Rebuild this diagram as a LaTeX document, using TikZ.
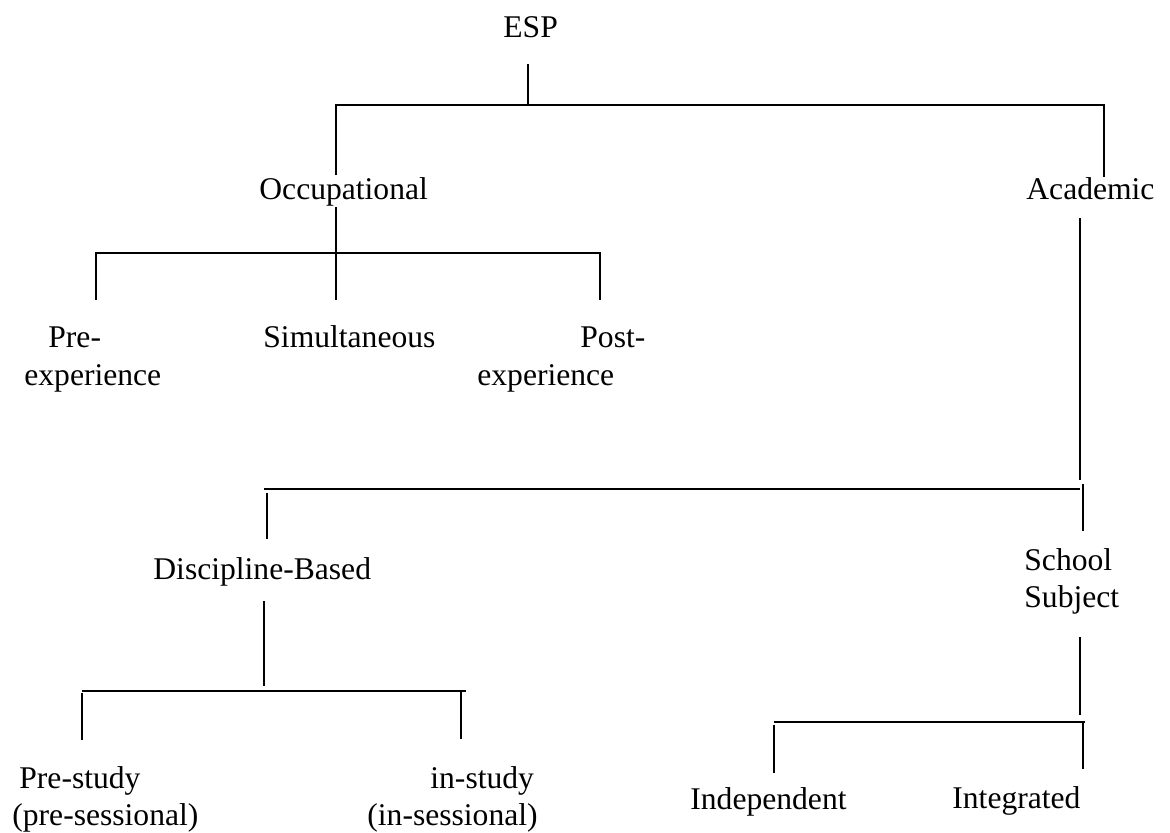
\documentclass[tikz,border=0pt]{standalone}
\usepackage{fontspec}
\setmainfont{Liberation Serif}
\begin{document}
\begin{tikzpicture}[x=0.5pt,y=-0.5pt,
  lbl/.style={anchor=base west,inner sep=0pt,font=\fontsize{15.8}{18.75}\selectfont},
  tree/.style={line width=1.1pt}]
\useasboundingbox (0,0) rectangle (1170,832);

% ---- labels ----
\node[lbl] (esp) at (503,37) {ESP};
\node[lbl] (occ) at (259,199) {Occupational};
\node[lbl] (aca) at (1026,199) {Academic};
\node[lbl] (preA) at (48,347) {Pre-};
\node[lbl] (preB) at (24,385) {experience};
\node[lbl] (sim) at (263,347) {Simultaneous};
\node[lbl] (postA) at (580,347) {Post-};
\node[lbl] (postB) at (477,385) {experience};
\node[lbl] (disc) at (153,579) {Discipline-Based};
\node[lbl] (schA) at (1024,570) {School};
\node[lbl] (schB) at (1024,607) {Subject};
\node[lbl] (prestA) at (19,788) {Pre-study};
\node[lbl] (prestB) at (12,825) {(pre-sessional)};
\node[lbl] (instA) at (430,788) {in-study};
\node[lbl] (instB) at (367,825) {(in-sessional)};
\node[lbl] (indep) at (690,809) {Independent};
\node[lbl] (integ) at (952,808) {Integrated};

% ---- ESP branch ----
\coordinate (espStem) at (528,64);
\coordinate (topBus) at (528,105);
\coordinate (occTop) at (336,175);
\coordinate (acaTop) at (1104,177);
\draw[tree] (espStem) -- (topBus);
\draw[tree] (occTop) -- (occTop |- topBus) -- (acaTop |- topBus) -- (acaTop);

% ---- Occupational branch ----
\coordinate (occStem) at (336,207);
\coordinate (simTop) at (336,300);
\coordinate (occBus) at (336,253);
\coordinate (preTop) at (96,300);
\coordinate (postTop) at (600,300);
\draw[tree] (occStem) -- (simTop);
\draw[tree] (preTop) -- (preTop |- occBus) -- (postTop |- occBus) -- (postTop);

% ---- Academic branch ----
\coordinate (acaStem) at (1080,218);
\coordinate (acaStemEnd) at (1080,480);
\coordinate (acaBusL) at (264,489);
\coordinate (acaBusR) at (1080,489);
\coordinate (discTop) at (267,493);
\coordinate (discTopEnd) at (267,539);
\coordinate (schTop) at (1083,484);
\coordinate (schTopEnd) at (1083,531);
\draw[tree] (acaStem) -- (acaStemEnd);
\draw[tree] (acaBusL) -- (acaBusR);
\draw[tree] (discTop) -- (discTopEnd);
\draw[tree] (schTop) -- (schTopEnd);

% ---- Discipline-Based branch ----
\coordinate (discStem) at (264,601);
\coordinate (discStemEnd) at (264,686);
\coordinate (discBusL) at (82,691);
\coordinate (discBusR) at (466,691);
\coordinate (prestTop) at (82,740);
\coordinate (instTop) at (461,739);
\draw[tree] (discStem) -- (discStemEnd);
\draw[tree] (discBusL) -- (discBusR);
\draw[tree] (discBusL |- 0,693) -- (prestTop);
\draw[tree] (instTop |- discBusR) -- (instTop);

% ---- School Subject branch ----
\coordinate (schStem) at (1080,637);
\coordinate (schStemEnd) at (1080,715);
\coordinate (schBusL) at (774,722);
\coordinate (schBusR) at (1085,722);
\coordinate (indepTop) at (774,773);
\coordinate (integTop) at (1083,769);
\draw[tree] (schStem) -- (schStemEnd);
\draw[tree] (schBusL) -- (schBusR);
\draw[tree] (indepTop |- 0,725) -- (indepTop);
\draw[tree] (integTop |- schBusR) -- (integTop);
\end{tikzpicture}
\end{document}
